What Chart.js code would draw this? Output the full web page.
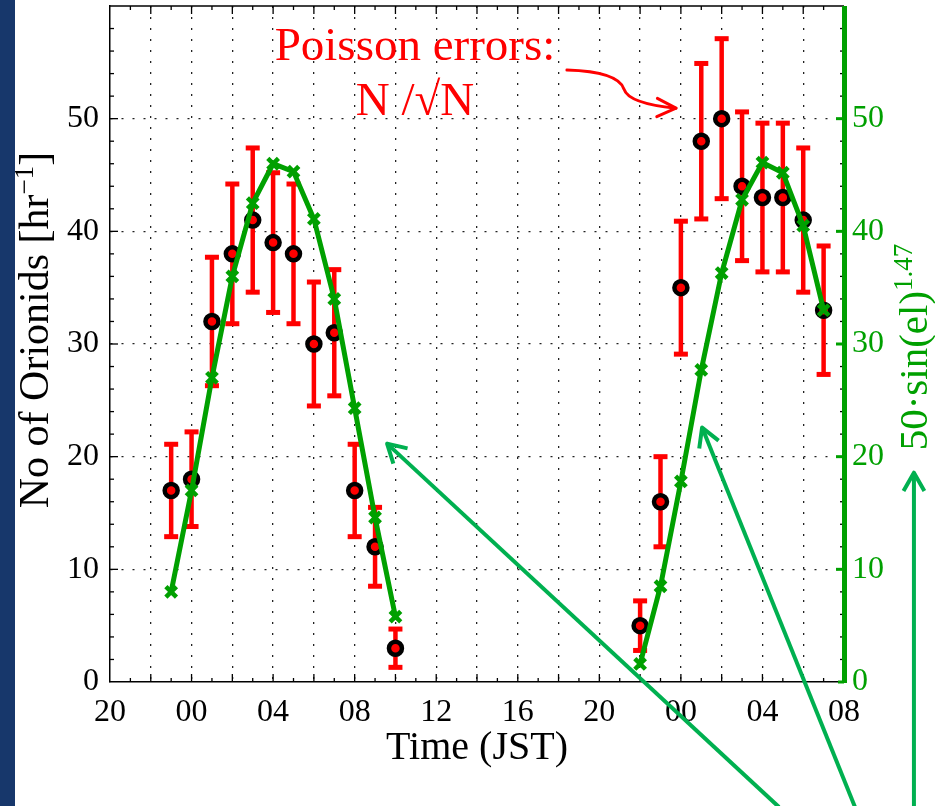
<!DOCTYPE html>
<html><head><meta charset="utf-8">
<script src="https://cdn.jsdelivr.net/npm/chart.js@4.4.1/dist/chart.umd.min.js"></script>
<style>
html,body{margin:0;padding:0;background:#fff;}
#wrap{position:relative;width:935px;height:806px;overflow:hidden;background:#fff;}
#strip{position:absolute;left:0;top:0;width:15px;height:806px;background:#17376b;}
canvas{position:absolute;left:0;top:0;}
</style></head><body>
<div id="wrap"><div id="strip"></div><canvas id="c" width="935" height="806"></canvas></div>
<script>
// x values: hours after 20:00 JST of the first evening
const night1Hours  = [3,4,5,6,7,8,9,10,11,12,13,14];
const night1Counts = [17,18,32,38,41,39,38,30,31,17,12,3];
const night1Errors = [4.1,4.2,5.7,6.2,6.4,6.2,6.2,5.5,5.6,4.1,3.5,1.7];
const night1Model  = [8,17,27,36,42.5,46,45.3,41.1,34,24.3,14.6,5.8];

const night2Hours  = [26,27,28,29,30,31,32,33,34,35];
const night2Counts = [5,16,35,48,50,44,43,43,41,33];
const night2Errors = [2.2,4.0,5.9,6.9,7.1,6.6,6.6,6.6,6.4,5.7];
const night2Model  = [1.6,8.5,17.8,27.7,36.3,42.8,46.1,45.2,40.5,33];

const xTickLabels = ['20','00','04','08','12','16','20','00','04','08'];
const yTickLabels = [0,10,20,30,40,50];

// annotation anchors in data units (hours, counts)
const poissonLine1 = {h:14.96, v:55.24, text:'Poisson errors:'};
const poissonLine2 = {h:14.96, v:50.36, text:'N /\u221AN'};
const redCurve = [[22.41,54.31],[24.03,54.22],[25.01,53.69],[25.21,52.62],[25.36,51.73],[26.24,51.20],[27.76,50.93]];
const greenArrows = [
  [[32.81,-11.1],[13.59,21.16]],
  [[36.54,-11.1],[29.04,22.58]],
  [[39.43,-11.1],[39.43,18.58]]
];

const SERIF = "'Liberation Serif','Times New Roman',serif";
const GREEN = '#00a000';
const RED = '#ff0000';
const ARROW_GREEN = '#00b050';

const pts = (hs, vs) => hs.map((h,i)=>({x:h, y:vs[i]}));

function arrowHead(ctx, tx, ty, fx, fy, len, ang){
  const a = Math.atan2(fy-ty, fx-tx);
  ctx.beginPath();
  ctx.moveTo(tx + len*Math.cos(a+ang), ty + len*Math.sin(a+ang));
  ctx.lineTo(tx, ty);
  ctx.lineTo(tx + len*Math.cos(a-ang), ty + len*Math.sin(a-ang));
  ctx.stroke();
}

const deco = {
  id:'deco',
  beforeDatasetsDraw(chart){
    const {ctx, scales:{x, y}} = chart;
    ctx.save();
    ctx.strokeStyle = RED; ctx.fillStyle = RED;
    const bars = (hs, cs, es) => hs.forEach((h,i)=>{
      const px = x.getPixelForValue(h);
      const t = y.getPixelForValue(cs[i]+es[i]);
      const b = y.getPixelForValue(cs[i]-es[i]);
      ctx.lineWidth = 4.5;
      ctx.beginPath(); ctx.moveTo(px,t); ctx.lineTo(px,b); ctx.stroke();
      ctx.fillRect(px-7, t-2.5, 14, 5);
      ctx.fillRect(px-7, b-2.5, 14, 5);
    });
    bars(night1Hours, night1Counts, night1Errors);
    bars(night2Hours, night2Counts, night2Errors);
    ctx.restore();
  },
  afterDraw(chart){
    const {ctx, chartArea:a, scales:{x, y}} = chart;
    ctx.save();
    // frame top
    ctx.strokeStyle = '#000'; ctx.lineWidth = 1.5;
    ctx.beginPath(); ctx.moveTo(a.left, a.top); ctx.lineTo(a.right, a.top); ctx.stroke();
    // inward ticks
    ctx.lineWidth = 1.3;
    for (let h = 1; h < 36; h++){
      const px = x.getPixelForValue(h), L = h%2===0 ? 8 : 4;
      ctx.beginPath();
      ctx.moveTo(px, a.bottom); ctx.lineTo(px, a.bottom-L);
      ctx.moveTo(px, a.top); ctx.lineTo(px, a.top+L);
      ctx.stroke();
    }
    for (let v = 2; v < 60; v += 2){
      const py = y.getPixelForValue(v), L = v%10===0 ? 8 : 4;
      ctx.strokeStyle = '#000';
      ctx.beginPath(); ctx.moveTo(a.left, py); ctx.lineTo(a.left+L, py); ctx.stroke();
      ctx.strokeStyle = v%10===0 ? GREEN : '#000';
      ctx.lineWidth = v%10===0 ? 3 : 1.3;
      ctx.beginPath(); ctx.moveTo(a.right, py); ctx.lineTo(a.right-L, py); ctx.stroke();
      ctx.lineWidth = 1.3;
    }
    // right green axis line
    ctx.strokeStyle = GREEN; ctx.lineWidth = 5;
    ctx.beginPath(); ctx.moveTo(a.right+0.5, a.top); ctx.lineTo(a.right+0.5, a.bottom+1); ctx.stroke();
    ctx.lineWidth = 3;
    ctx.beginPath(); ctx.moveTo(a.right-6, a.bottom); ctx.lineTo(a.right, a.bottom); ctx.stroke();

    // rotated axis titles with superscripts
    const rotTitle = (parts, cx, cy, color) => {
      ctx.save();
      ctx.translate(cx, cy); ctx.rotate(-Math.PI/2);
      ctx.fillStyle = color; ctx.textBaseline = 'alphabetic'; ctx.textAlign = 'left';
      let W = 0;
      parts.forEach(p => { ctx.font = p.size+'px '+SERIF; p.w = ctx.measureText(p.t).width; W += p.w; });
      let sx = -W/2;
      parts.forEach(p => { ctx.font = p.size+'px '+SERIF; ctx.fillText(p.t, sx, -p.rise); sx += p.w; });
      ctx.restore();
    };
    rotTitle([{t:'No of Orionids [hr',size:42,rise:0},{t:'\u22121',size:27,rise:15},{t:']',size:42,rise:0}],
             48, 330, '#000');
    rotTitle([{t:'50\u00B7sin(el)',size:41,rise:0},{t:'1.47',size:27,rise:15}],
             927, 347, GREEN);

    // Poisson annotation
    ctx.fillStyle = RED; ctx.textAlign = 'center'; ctx.textBaseline = 'alphabetic';
    ctx.font = '47px '+SERIF;
    [poissonLine1, poissonLine2].forEach(p => ctx.fillText(p.text, x.getPixelForValue(p.h), y.getPixelForValue(p.v)));
    const cp = redCurve.map(([h,v]) => [x.getPixelForValue(h), y.getPixelForValue(v)]);
    ctx.strokeStyle = RED; ctx.lineWidth = 3; ctx.lineCap = 'round'; ctx.lineJoin = 'round';
    ctx.beginPath(); ctx.moveTo(cp[0][0], cp[0][1]);
    ctx.bezierCurveTo(cp[1][0],cp[1][1],cp[2][0],cp[2][1],cp[3][0],cp[3][1]);
    ctx.bezierCurveTo(cp[4][0],cp[4][1],cp[5][0],cp[5][1],cp[6][0],cp[6][1]);
    ctx.stroke();
    arrowHead(ctx, cp[6][0], cp[6][1], cp[6][0]-30, cp[6][1]-1, 21, 0.45);

    // green arrows
    ctx.strokeStyle = ARROW_GREEN; ctx.lineWidth = 4; ctx.lineCap = 'butt';
    greenArrows.forEach(([f,t]) => {
      const fx = x.getPixelForValue(f[0]), fy = y.getPixelForValue(f[1]);
      const tx = x.getPixelForValue(t[0]), ty = y.getPixelForValue(t[1]);
      ctx.beginPath(); ctx.moveTo(fx,fy); ctx.lineTo(tx,ty); ctx.stroke();
      arrowHead(ctx, tx, ty, fx, fy, 21, 0.52);
    });
    ctx.restore();
  }
};

const gridCol = (lo, hi) => c => (c.tick && (c.tick.value===lo || c.tick.value===hi)) ? 'rgba(0,0,0,0)' : '#222';
const noPad = s => { s.paddingTop = 0; s.paddingBottom = 0; s.paddingLeft = 0; s.paddingRight = 0; };

new Chart(document.getElementById('c'), {
  type:'scatter',
  data:{ datasets:[
    { data: pts(night1Hours, night1Model), yAxisID:'y2', showLine:true, borderColor:GREEN, borderWidth:5,
      pointStyle:'crossRot', pointRadius:7.5, pointBorderWidth:4.5, pointBorderColor:GREEN, pointBackgroundColor:GREEN, order:0 },
    { data: pts(night2Hours, night2Model), yAxisID:'y2', showLine:true, borderColor:GREEN, borderWidth:5,
      pointStyle:'crossRot', pointRadius:7.5, pointBorderWidth:4.5, pointBorderColor:GREEN, pointBackgroundColor:GREEN, order:0 },
    { data: pts(night1Hours, night1Counts), yAxisID:'y', showLine:false, pointRadius:6.5, pointBorderWidth:4.5,
      pointBackgroundColor:RED, pointBorderColor:'#000', order:1 },
    { data: pts(night2Hours, night2Counts), yAxisID:'y', showLine:false, pointRadius:6.5, pointBorderWidth:4.5,
      pointBackgroundColor:RED, pointBorderColor:'#000', order:1 }
  ]},
  options:{
    responsive:false, animation:false, events:[], devicePixelRatio:1,
    layout:{ autoPadding:false, padding:{top:6, left:0, right:0, bottom:0} },
    plugins:{ legend:{display:false}, tooltip:{enabled:false} },
    scales:{
      x:{ type:'linear', min:0, max:36, position:'bottom',
          afterFit(s){ s.height = 124; noPad(s); },
          ticks:{ stepSize:2, autoSkip:false, maxRotation:0, minRotation:0, padding:11, color:'#000',
                  font:{family:SERIF, size:32}, callback:v => v%4===0 ? xTickLabels[v/4] : '' },
          grid:{ drawTicks:false, color:gridCol(0,36), lineWidth:1.3 },
          border:{ display:true, color:'#000', width:1.5, dash:[2,9] },
          title:{ display:true, text:'Time (JST)', color:'#000', font:{family:SERIF, size:40}, padding:{top:0, bottom:34} } },
      y:{ type:'linear', min:0, max:60, position:'left',
          afterFit(s){ s.width = 110; noPad(s); },
          ticks:{ stepSize:10, padding:11, color:'#000', font:{family:SERIF, size:32},
                  callback:v => yTickLabels.includes(v) ? String(v) : null },
          grid:{ drawTicks:false, color:gridCol(0,60), lineWidth:1.3 },
          border:{ display:true, color:'#000', width:1.5, dash:[2,9] } },
      y2:{ type:'linear', min:0, max:60, position:'right',
          afterFit(s){ s.width = 91; noPad(s); },
          ticks:{ stepSize:10, padding:8, color:GREEN, font:{family:SERIF, size:32},
                  callback:v => yTickLabels.includes(v) ? String(v) : null },
          grid:{ display:false, drawOnChartArea:false, drawTicks:false },
          border:{ display:false } }
    }
  },
  plugins:[deco]
});
</script>
</body></html>
